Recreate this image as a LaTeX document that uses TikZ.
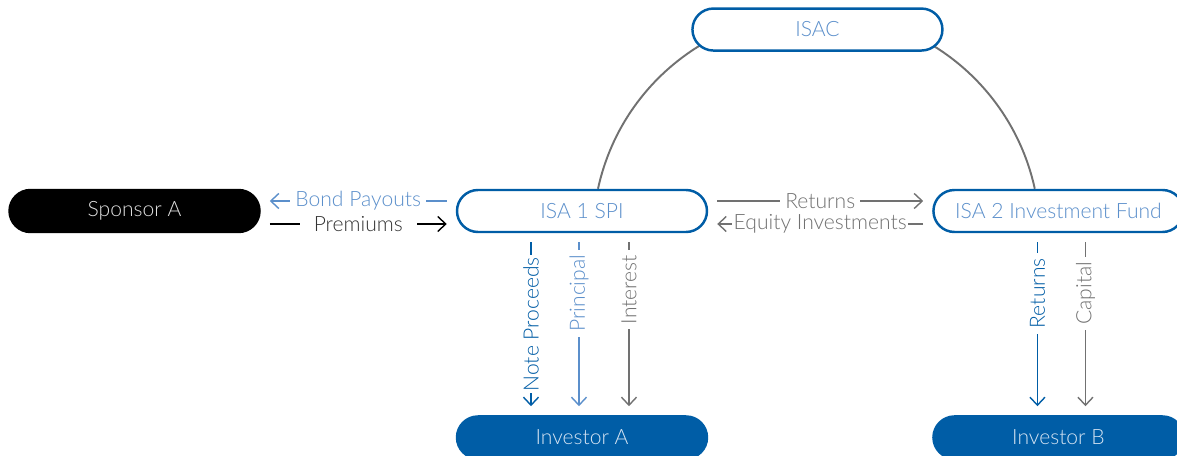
\documentclass[tikz,border=0pt]{standalone}
\usepackage{fontspec}
\setmainfont{Lato Light}
\usetikzlibrary{positioning,arrows.meta,backgrounds}
\definecolor{isablue}{HTML}{005DA6}
\definecolor{isalight}{HTML}{5B8FCB}
\definecolor{isagray}{HTML}{717171}
\definecolor{isapale}{HTML}{D6E4F3}
\tikzset{
  entity/.style={draw=isablue, line width=1.4pt, fill=white, rounded corners=0.42cm, minimum width=5cm, minimum height=0.84cm, inner sep=2pt, text=isalight, font=\fontsize{12pt}{14pt}\selectfont},
  holder/.style={entity, fill=isablue, text=isapale},
  sponsor/.style={entity, draw=black, fill=black, text=black!12},
  flow/.style={-{Straight Barb[length=1.6mm,width=3mm]}, line width=0.8pt, shorten <=1.8mm, shorten >=1.8mm},
  tag/.style={fill=white, inner sep=1.2pt, inner xsep=3pt, font=\fontsize{12pt}{14pt}\selectfont},
  ring/.style={isagray, line width=1.1pt}
}

\begin{document}
\begin{tikzpicture}
  \useasboundingbox (-11.64,-4.9) rectangle (11.9,4.22);
  \node[entity] (spi) {ISA 1 SPI};
  \node[sponsor, left=3.9cm of spi] (spon) {Sponsor A};
  \node[entity, right=4.48cm of spi] (fund) {ISA 2 Investment Fund};
  \node[entity, above right=2.74cm and -0.34cm of spi] (isac) {ISAC};
  \node[holder, below=3.64cm of spi] (inva) {Investor A};
  \node[holder, below=3.64cm of fund] (invb) {Investor B};
  % ISAC ties the two vehicles together
  \begin{scope}[on background layer]
    \draw[ring] ([xshift=3.2mm]spi.north) arc[start angle=167.74, end angle=12.26, radius=4.47cm];
  \end{scope}
  % sponsor side
  \draw[flow, isalight] ([yshift=2mm]spi.west) -- ([yshift=2mm]spon.east) node[tag, midway, text=isalight] {Bond Payouts};
  \draw[flow, black] ([yshift=-2.6mm]spon.east) -- ([yshift=-2.6mm]spi.west) node[tag, midway, inner xsep=8pt, text=black!80] {Premiums};
  % between the vehicles
  \draw[flow, isagray] ([yshift=2mm]spi.east) -- ([yshift=2mm]fund.west) node[tag, midway] {Returns};
  \draw[flow, isagray] ([yshift=-2.6mm]fund.west) -- ([yshift=-2.6mm]spi.east) node[tag, midway, inner xsep=1pt] {Equity Investments};
  % down to the investors
  \draw[flow, isablue] ([xshift=-10.2mm]spi.south) -- ([xshift=-10.2mm]inva.north) node[tag, midway, rotate=90, inner xsep=1pt] {Note Proceeds};
  \draw[flow, isalight] ([xshift=-0.6mm]spi.south) -- ([xshift=-0.6mm]inva.north) node[tag, pos=0.33, rotate=90] {Principal};
  \draw[flow, isagray] ([xshift=9.4mm]spi.south) -- ([xshift=9.4mm]inva.north) node[tag, pos=0.31, rotate=90] {Interest};
  \draw[flow, isablue] ([xshift=-4.2mm]fund.south) -- ([xshift=-4.2mm]invb.north) node[tag, pos=0.33, rotate=90] {Returns};
  \draw[flow, isagray] ([xshift=5.4mm]fund.south) -- ([xshift=5.4mm]invb.north) node[tag, pos=0.33, rotate=90] {Capital};
\end{tikzpicture}
\end{document}
